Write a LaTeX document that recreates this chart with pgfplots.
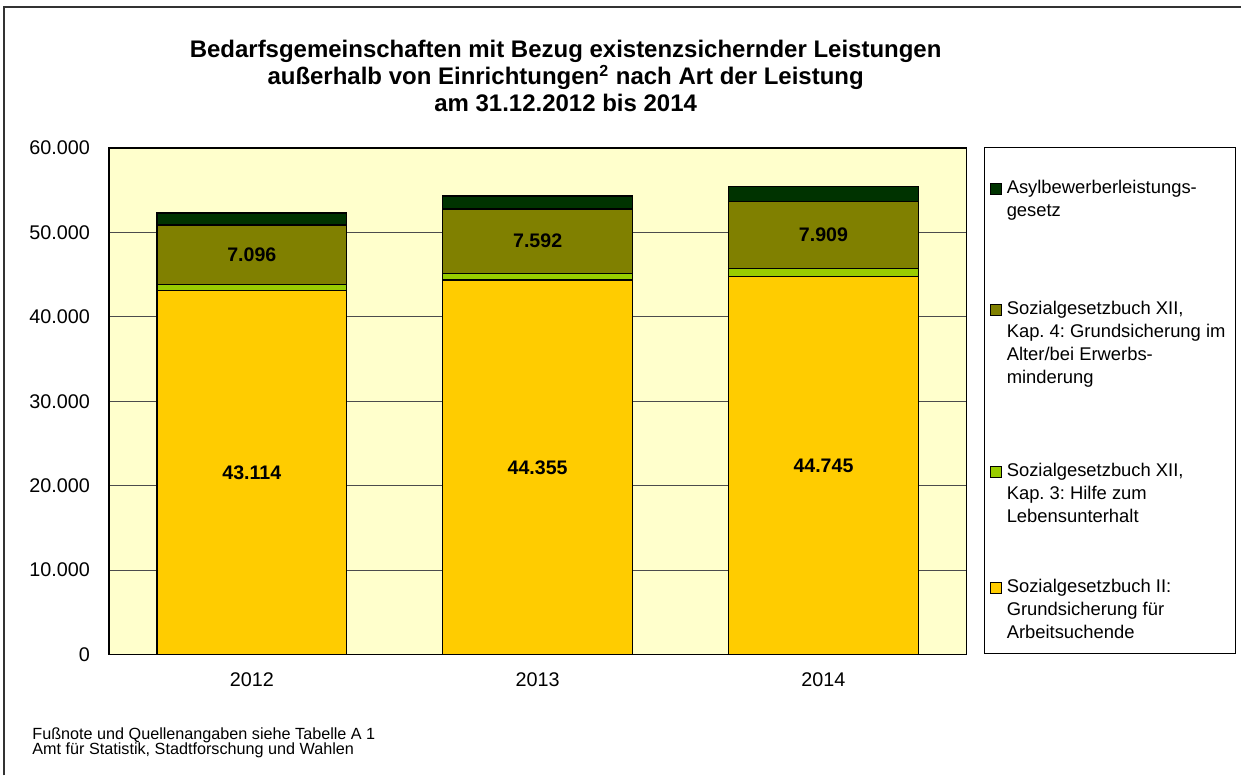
\documentclass[border=0pt]{standalone}
\usepackage{fontspec}
\setmainfont{Liberation Sans}
\usepackage{pgfplots}
\pgfplotsset{compat=1.18}
\usepackage{pgfplotstable}
\frenchspacing
\definecolor{sgbii}{HTML}{FFCC00}
\definecolor{kapiii}{HTML}{99CC00}
\definecolor{kapiv}{HTML}{808000}
\definecolor{asyl}{HTML}{003300}
\definecolor{plotbg}{HTML}{FFFFCC}
\pgfplotstableread{
x sgbii kapiii kapiv asyl
0 43114 680 7096 1380
1 44355 800 7592 1575
2 44745 985 7909 1780
}\datatable
\begin{document}
\begin{tikzpicture}
\path (0,0) rectangle (621pt,388pt);
\draw[black!80, line width=0.8pt] (2pt,0pt) -- (2pt,384.5pt) -- (621pt,384.5pt);
\begin{axis}[
  at={(54.5pt,60.5pt)}, anchor=south west,
  scale only axis, width=429pt, height=253.5pt,
  ybar stacked, bar width=95pt,
  xmin=-0.5, xmax=2.5, ymin=0, ymax=60000,
  xtick={0,1,2}, xticklabels={2012,2013,2014},
  ytick={0,10000,20000,30000,40000,50000,60000},
  scaled y ticks=false,
  /pgf/number format/1000 sep={.},
  /pgf/number format/assume math mode=true,
  major tick length=0pt,
  ymajorgrids, grid style={black!70, line width=0.6pt},
  axis line style={black, line width=0.8pt},
  axis background/.style={fill=plotbg},
  ticklabel style={font=\fontsize{9.9}{11}\selectfont},
  yticklabel style={xshift=-6pt},
  xticklabel style={yshift=-5.5pt},
]
\addplot[draw=black, line width=0.7pt, fill=sgbii] table[x=x, y=sgbii] {\datatable};
\addplot[draw=black, line width=0.7pt, fill=kapiii] table[x=x, y=kapiii] {\datatable};
\addplot[draw=black, line width=0.7pt, fill=kapiv] table[x=x, y=kapiv] {\datatable};
\addplot[draw=black, line width=0.7pt, fill=asyl] table[x=x, y=asyl] {\datatable};
\coordinate (a0) at (axis cs:0,21557);
\coordinate (a1) at (axis cs:1,22177);
\coordinate (a2) at (axis cs:2,22372);
\coordinate (b0) at (axis cs:0,47342);
\coordinate (b1) at (axis cs:1,48951);
\coordinate (b2) at (axis cs:2,49684);
\end{axis}
\begin{scope}[every node/.style={font=\bfseries\fontsize{9.8}{11}\selectfont}]
\node at (a0) {43.114};
\node at (a1) {44.355};
\node at (a2) {44.745};
\node at (b0) {7.096};
\node at (b1) {7.592};
\node at (b2) {7.909};
\end{scope}
% title
\begin{scope}[every node/.style={font=\bfseries\fontsize{12}{14}\selectfont, anchor=base, inner sep=0pt}]
\node at (283pt,359pt) {Bedarfsgemeinschaften mit Bezug existenzsichernder Leistungen};
\node at (283pt,345.5pt) {außerhalb von Einrichtungen\textsuperscript{2} nach Art der Leistung};
\node at (283pt,332pt) {am 31.12.2012 bis 2014};
\end{scope}
% legend
\draw[black, line width=0.6pt] (492.5pt,61pt) rectangle (618pt,314pt);
\begin{scope}[every node/.style={font=\fontsize{9.2}{11}\selectfont, anchor=base west, inner sep=0pt}]
\node at (503.5pt,291pt) {Asylbewerberleistungs-};
\node at (503.5pt,279.5pt) {gesetz};
\node at (503.5pt,230.5pt) {Sozialgesetzbuch XII,};
\node at (503.5pt,219pt) {Kap. 4: Grundsicherung im};
\node at (503.5pt,207.5pt) {Alter/bei Erwerbs-};
\node at (503.5pt,196pt) {minderung};
\node at (503.5pt,149.5pt) {Sozialgesetzbuch XII,};
\node at (503.5pt,138pt) {Kap. 3: Hilfe zum};
\node at (503.5pt,126.5pt) {Lebensunterhalt};
\node at (503.5pt,91.5pt) {Sozialgesetzbuch II:};
\node at (503.5pt,80pt) {Grundsicherung für};
\node at (503.5pt,68.5pt) {Arbeitsuchende};
\end{scope}
\draw[black, line width=0.5pt, fill=asyl] (495.5pt,290.8pt) rectangle (501pt,296.3pt);
\draw[black, line width=0.5pt, fill=kapiv] (495.5pt,230.3pt) rectangle (501pt,235.8pt);
\draw[black, line width=0.5pt, fill=kapiii] (495.5pt,149.3pt) rectangle (501pt,154.8pt);
\draw[black, line width=0.5pt, fill=sgbii] (495.5pt,91.3pt) rectangle (501pt,96.8pt);
% footnote
\begin{scope}[every node/.style={font=\fontsize{8.1}{9}\selectfont, anchor=base west, inner sep=0pt}]
\node at (16pt,18pt) {Fußnote und Quellenangaben siehe Tabelle A 1};
\node at (16pt,10.5pt) {Amt für Statistik, Stadtforschung und Wahlen};
\end{scope}
\end{tikzpicture}
\end{document}
